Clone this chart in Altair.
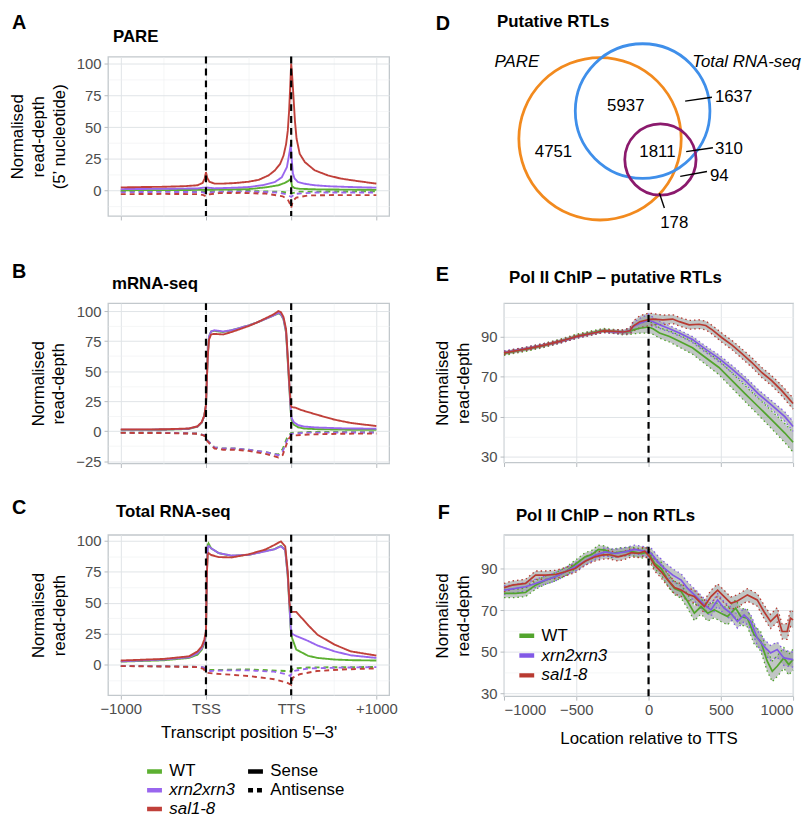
import altair as alt
import pandas as pd

FONT = "Liberation Sans"

# ---------------- categories / styles ----------------
series = ["WT", "xrn2xrn3", "sal1-8"]
line_colors = ["#5cb031", "#9966ee", "#c0403a"]
chip_colors = ["#52a42d", "#8159e6", "#b83a31"]
strands = ["Sense", "Antisense"]
strand_dash = [[1, 0], [5, 4]]

abc_tick_pos = [0, 1, 2, 3]
abc_tick_labels = ["−1000", "TSS", "TTS", "+1000"]
abc_marker_pos = [1, 2]
chip_marker_pos = [0]

panel_letters = ["A", "B", "C", "D", "E", "F"]
panel_names = ["PARE", "mRNA-seq", "Total RNA-seq", "Putative RTLs",
               "Pol II ChIP – putative RTLs", "Pol II ChIP – non RTLs"]

# ---------------- Panel A : PARE ----------------
A_red_s_x = [0, 0.25, 0.5, 0.75, 0.9, 0.96, 0.985, 1.0, 1.015, 1.04, 1.1, 1.2, 1.35, 1.5, 1.62, 1.735, 1.81, 1.87, 1.91, 1.94, 1.96, 1.975, 1.988, 2.0, 2.012, 2.025, 2.044, 2.063, 2.1, 2.16, 2.275, 2.43, 2.58, 2.78, 3.0]
A_red_s_y = [2.5, 2.8, 3.0, 3.5, 4.2, 6.0, 9.5, 14.5, 10.0, 7.0, 5.5, 5.5, 6.0, 7.0, 8.5, 12.0, 16.0, 21.0, 27.5, 36.5, 47.0, 62.0, 81.0, 100.0, 90.0, 76.0, 55.0, 41.0, 29.0, 22.5, 16.0, 12.0, 9.5, 7.5, 5.5]
A_pur_s_x = [0, 0.5, 0.9, 1.0, 1.1, 1.35, 1.5, 1.66, 1.81, 1.89, 1.95, 1.98, 1.995, 2.005, 2.02, 2.04, 2.08, 2.15, 2.275, 2.45, 2.66, 3.0]
A_pur_s_y = [1.2, 1.4, 1.7, 2.5, 1.8, 2.3, 2.8, 4.2, 6.8, 10.5, 18.5, 30.0, 36.5, 26.0, 13.5, 9.5, 6.8, 5.5, 4.2, 3.4, 2.9, 2.3]
A_grn_s_x = [0, 0.5, 1.0, 1.5, 1.6, 1.735, 1.85, 1.93, 1.97, 1.995, 2.01, 2.04, 2.1, 2.3, 2.6, 3.0]
A_grn_s_y = [0.3, 0.4, 0.6, 1.2, 1.8, 2.9, 4.2, 6.2, 7.8, 9.2, 3.5, 2.0, 1.4, 1.0, 0.8, 0.6]
A_red_a_x = [0, 0.5, 0.9, 0.97, 1.0, 1.04, 1.15, 1.4, 1.7, 1.9, 1.96, 1.99, 2.0, 2.02, 2.06, 2.2, 2.5, 3.0]
A_red_a_y = [-2.8, -2.6, -2.8, -3.5, -4.5, -3.0, -2.0, -1.8, -2.4, -4.5, -7.0, -11.0, -13.5, -8.0, -5.5, -3.8, -3.5, -3.6]
A_pur_a_x = [0, 0.5, 0.95, 1.0, 1.1, 1.5, 1.85, 1.95, 2.0, 2.05, 2.3, 3.0]
A_pur_a_y = [-1.2, -1.0, -1.2, -2.0, -1.0, -0.8, -1.5, -3.0, -5.0, -2.5, -1.5, -1.5]
A_grn_a_x = [0, 1.0, 1.5, 1.9, 2.0, 2.1, 3.0]
A_grn_a_y = [-0.4, -0.8, -0.3, -1.0, -2.2, -0.8, -0.6]

# ---------------- Panel B : mRNA-seq ----------------
B_red_s_x = [0, 0.5, 0.8, 0.9, 0.95, 0.98, 1.0, 1.01, 1.02, 1.035, 1.06, 1.1, 1.2, 1.3, 1.4, 1.5, 1.6, 1.7, 1.8, 1.85, 1.88, 1.91, 1.94, 1.96, 1.98, 1.995, 2.005, 2.05, 2.12, 2.31, 2.51, 2.7, 3.0]
B_red_s_y = [1.4, 1.5, 2.2, 4.0, 7.5, 13.0, 22.0, 42.0, 61.0, 76.0, 80.5, 81.0, 80.5, 82.5, 85.0, 87.5, 90.5, 94.0, 97.5, 100.0, 99.0, 95.0, 85.0, 62.0, 38.0, 22.0, 20.0, 19.5, 17.5, 13.5, 9.5, 6.8, 4.2]
B_gp_s_x = [0, 0.5, 0.8, 0.9, 0.95, 0.98, 1.0, 1.01, 1.02, 1.035, 1.06, 1.1, 1.2, 1.3, 1.4, 1.5, 1.6, 1.7, 1.8, 1.85, 1.88, 1.91, 1.94, 1.96, 1.98, 1.995, 2.005, 2.03, 2.08, 2.15, 2.3, 2.6, 3.0]
B_pur_s_y = [1.2, 1.3, 2.0, 3.8, 7.2, 12.5, 21.5, 42.0, 62.0, 78.5, 83.0, 84.0, 83.0, 84.0, 86.0, 88.0, 90.5, 93.5, 96.5, 98.5, 97.5, 93.5, 83.0, 60.0, 36.0, 18.0, 11.0, 7.5, 5.0, 3.8, 3.0, 2.3, 2.0]
B_grn_s_y = [1.0, 1.1, 1.8, 3.6, 7.0, 12.5, 21.5, 42.0, 62.0, 78.5, 83.0, 83.5, 82.5, 84.0, 86.0, 88.0, 90.5, 93.5, 96.5, 98.0, 97.0, 93.0, 82.0, 58.0, 34.0, 16.0, 9.0, 5.5, 3.2, 2.2, 1.6, 1.2, 1.0]
B_a_x = [0, 0.5, 0.9, 0.98, 1.0, 1.05, 1.1, 1.2, 1.35, 1.5, 1.7, 1.85, 1.9, 1.95, 1.98, 2.0, 2.2, 2.6, 3.0]
B_pur_a_y = [-1.3, -1.4, -2.0, -3.5, -6.5, -10.0, -13.5, -14.5, -14.5, -15.5, -17.5, -20.0, -17.0, -8.0, -4.5, -2.2, -1.3, -1.2, -1.2]
B_grn_a_y = [-1.3, -1.4, -2.0, -3.5, -6.5, -10.0, -13.5, -14.5, -14.5, -15.5, -17.5, -19.5, -15.0, -6.0, -3.0, -1.5, -0.8, -0.8, -1.0]
B_red_a_y = [-1.5, -1.6, -2.2, -3.8, -7.0, -11.0, -14.5, -15.5, -15.5, -16.5, -19.0, -22.0, -20.0, -10.0, -5.5, -3.8, -2.8, -2.2, -2.0]

# ---------------- Panel C : Total RNA-seq ----------------
C_s_x = [0, 0.5, 0.8, 0.9, 0.95, 0.98, 1.0, 1.01, 1.02, 1.03, 1.06, 1.15, 1.3, 1.5, 1.7, 1.8, 1.88, 1.93, 1.96, 1.98, 1.995, 2.005, 2.06, 2.2, 2.31, 2.51, 2.7, 3.0]
C_red_s_y = [3.2, 4.5, 6.6, 10.5, 14.5, 20.0, 27.0, 72.0, 88.5, 90.0, 88.5, 86.8, 86.5, 89.0, 93.0, 96.5, 99.5, 95.5, 75.0, 50.0, 43.0, 42.5, 42.5, 31.7, 24.0, 16.0, 10.6, 7.2]
C_pur_s_y = [2.5, 4.0, 5.8, 9.0, 13.0, 18.0, 25.0, 72.0, 94.7, 95.8, 93.9, 90.0, 88.0, 88.6, 91.5, 93.0, 95.5, 92.5, 72.0, 48.0, 30.0, 25.0, 23.0, 19.0, 15.3, 10.6, 7.4, 5.3]
C_grn_s_y = [2.3, 3.4, 5.3, 7.9, 11.9, 17.0, 24.0, 72.0, 96.6, 97.9, 93.9, 90.0, 87.8, 88.6, 91.8, 93.1, 95.8, 92.6, 71.0, 46.0, 28.0, 22.5, 12.0, 7.0, 5.3, 4.0, 3.5, 3.2]
C_red_a_x = [0, 0.5, 0.9, 0.97, 1.0, 1.1, 1.3, 1.5, 1.8, 1.95, 1.99, 2.0, 2.02, 2.1, 2.3, 2.6, 3.0]
C_red_a_y = [-1.3, -1.6, -2.1, -3.5, -6.6, -7.4, -8.3, -9.3, -11.9, -14.6, -16.0, -16.4, -10.6, -7.9, -5.3, -4.0, -3.2]
C_pur_a_x = [0, 0.5, 0.95, 1.0, 1.05, 1.2, 1.5, 1.8, 1.95, 1.99, 2.02, 2.2, 2.6, 3.0]
C_pur_a_y = [-1.3, -1.4, -2.0, -3.2, -5.3, -4.8, -4.8, -5.8, -8.0, -9.3, -5.3, -3.2, -2.5, -2.1]
C_grn_a_x = [0, 0.5, 0.95, 1.0, 1.05, 1.5, 1.95, 2.0, 2.02, 2.2, 2.6, 3.0]
C_grn_a_y = [-1.3, -1.4, -2.0, -3.2, -4.5, -4.0, -5.3, -5.5, -3.2, -2.4, -2.2, -2.0]

# ---------------- Panel D : Venn ----------------
venn_sets = ["PARE", "Total RNA-seq", "Putative RTLs"]
venn_colors = ["#f28a1e", "#3f8fea", "#8b1a6d"]
venn_cx = [97, 140, 158]
venn_cy = [83, 55, 104]
venn_r = [82, 68, 36]
venn_name_x = [13, 245]
venn_name_y = [5, 5]
venn_in_counts = ["5937", "4751", "1811", "178"]
venn_in_x = [123, 50, 155, 172]
venn_in_y = [50, 96, 96, 168]
venn_out_counts = ["1637", "310", "94"]
venn_out_x = [213, 213, 208]
venn_out_y = [41, 93, 121]
lead_x1 = [183, 184, 178, 157]
lead_y1 = [45, 96, 121, 138]
lead_x2 = [210, 211, 205, 162]
lead_y2 = [41, 92, 116, 153]

# ---------------- Panel E : Pol II ChIP putative RTLs ----------------
E_grn_x = [-1000, -836, -722, -608, -494, -380, -311, -243, -175, -129, -106, -60, 0, 31, 76, 145, 213, 304, 396, 487, 578, 669, 760, 852, 943, 1000]
E_grn_y = [81.8, 84.0, 85.8, 88.0, 90.5, 92.3, 93.3, 92.8, 92.3, 92.8, 93.6, 94.4, 95.0, 94.1, 92.0, 90.3, 87.9, 84.6, 79.6, 74.7, 68.1, 61.5, 55.0, 48.4, 41.8, 37.2]
E_grn_se = [1.0, 1.0, 1.0, 1.0, 1.0, 1.0, 1.0, 1.0, 1.2, 1.5, 2.0, 2.5, 3.0, 2.8, 2.6, 2.8, 3.0, 3.2, 3.4, 3.6, 3.8, 4.0, 4.2, 4.5, 4.8, 5.0]
E_pur_x = [-1000, -836, -722, -608, -494, -380, -311, -243, -175, -129, -106, -60, 0, 31, 76, 145, 213, 304, 396, 487, 578, 669, 760, 852, 943, 1000]
E_pur_y = [82.2, 84.3, 86.0, 87.8, 90.2, 92.0, 93.0, 92.6, 92.4, 93.2, 95.3, 96.9, 98.4, 97.7, 96.1, 94.1, 92.0, 88.7, 83.8, 79.3, 73.9, 68.1, 61.5, 55.8, 50.0, 45.1]
E_pur_se = [0.8, 0.8, 0.8, 0.8, 0.8, 0.8, 0.8, 0.8, 1.0, 1.5, 2.0, 2.5, 3.0, 2.2, 1.8, 1.6, 1.5, 1.5, 1.6, 1.7, 1.8, 1.9, 2.0, 2.2, 2.4, 2.5]
E_red_x = [-1000, -836, -722, -608, -494, -380, -311, -243, -175, -129, -106, -60, 0, 31, 99, 167, 213, 281, 350, 396, 441, 510, 578, 646, 715, 783, 852, 920, 1000]
E_red_y = [82.0, 84.2, 85.9, 87.9, 90.3, 92.0, 93.1, 92.8, 92.5, 93.1, 95.5, 97.7, 98.8, 99.0, 98.6, 99.0, 97.7, 96.1, 96.4, 95.8, 93.6, 89.5, 85.9, 81.6, 77.2, 72.2, 68.1, 63.2, 56.6]
E_red_se = [0.8, 0.8, 0.8, 0.8, 0.8, 0.8, 0.8, 0.8, 1.0, 1.5, 2.5, 3.0, 3.2, 2.8, 2.4, 2.2, 2.2, 2.2, 2.2, 2.2, 2.2, 2.3, 2.3, 2.4, 2.4, 2.5, 2.5, 2.6, 2.8]

# ---------------- Panel F : Pol II ChIP non RTLs ----------------
F_red_x = [-1000, -943, -851, -782, -713, -645, -576, -508, -439, -370, -324, -278, -210, -164, -118, -72, -26, 8, 42, 88, 134, 180, 226, 271, 317, 386, 432, 478, 523, 569, 615, 684, 752, 798, 844, 890, 924, 959, 982, 1000]
F_red_y = [80.8, 82.0, 82.8, 86.8, 86.8, 87.1, 88.4, 90.0, 93.5, 95.6, 96.4, 96.7, 95.6, 96.4, 97.6, 97.2, 98.3, 95.6, 91.6, 88.4, 84.4, 80.8, 79.6, 77.6, 76.5, 71.7, 76.5, 79.6, 76.5, 73.3, 74.4, 77.3, 74.9, 69.3, 64.5, 67.7, 59.7, 59.7, 66.1, 65.3]
F_red_se = [2.0, 2.0, 2.0, 2.0, 2.0, 2.0, 2.0, 2.0, 2.0, 2.0, 2.0, 2.0, 2.0, 2.0, 2.0, 2.0, 2.2, 2.5, 2.8, 3.0, 3.0, 3.0, 3.0, 3.0, 3.0, 3.0, 3.0, 3.0, 3.0, 3.0, 3.0, 3.0, 3.0, 3.2, 3.4, 3.5, 3.6, 3.8, 4.0, 4.0]
F_grn_x = [-1000, -920, -851, -782, -713, -645, -576, -508, -439, -393, -347, -301, -255, -187, -118, -49, -3, 42, 88, 134, 180, 226, 271, 317, 363, 409, 455, 501, 546, 603, 638, 684, 730, 776, 821, 856, 890, 936, 970, 1000]
F_grn_y = [78.0, 78.0, 78.5, 82.0, 84.4, 86.0, 88.4, 91.9, 95.6, 96.7, 99.2, 98.8, 97.2, 98.0, 98.3, 97.2, 98.0, 92.4, 90.0, 84.4, 80.4, 78.9, 74.1, 68.5, 71.7, 68.5, 70.1, 68.5, 66.9, 70.9, 66.9, 66.1, 58.2, 55.0, 45.4, 40.6, 43.0, 47.0, 43.8, 46.2]
F_grn_se = [2.0, 2.0, 2.0, 2.0, 2.0, 2.0, 2.0, 2.0, 2.0, 2.0, 2.0, 2.0, 2.0, 2.0, 2.0, 2.2, 2.4, 2.6, 3.0, 3.0, 3.0, 3.2, 3.4, 3.6, 3.6, 3.8, 3.8, 4.0, 4.0, 4.0, 4.0, 4.2, 4.4, 4.6, 4.8, 5.0, 5.0, 5.0, 5.0, 5.0]
F_pur_x = [-1000, -920, -851, -782, -713, -645, -576, -508, -439, -370, -301, -233, -164, -95, -26, 19, 65, 111, 168, 226, 271, 317, 386, 432, 478, 523, 569, 615, 661, 707, 752, 798, 844, 890, 936, 1000]
F_pur_y = [79.6, 80.4, 81.2, 82.8, 84.4, 86.0, 88.4, 90.8, 93.5, 96.4, 98.0, 97.2, 98.0, 99.2, 98.3, 97.2, 93.2, 90.0, 86.8, 84.4, 80.4, 77.3, 72.5, 70.1, 74.9, 70.9, 68.5, 64.5, 67.7, 64.5, 56.6, 52.6, 49.4, 51.0, 47.0, 46.2]
F_pur_se = [2.0, 2.0, 2.0, 2.0, 2.0, 2.0, 2.0, 2.0, 2.0, 2.0, 2.0, 2.0, 2.0, 2.0, 2.2, 2.5, 2.8, 3.0, 3.0, 3.0, 3.0, 3.0, 3.0, 3.0, 3.0, 3.0, 3.0, 3.2, 3.2, 3.4, 3.5, 3.5, 3.6, 3.6, 3.6, 3.6]

# ---------------- helpers ----------------
GRID_MAJ = "#e0e4e7"
GRID_MIN = "#eef0f2"


def grid(test):
    return dict(
        gridColor={"condition": {"test": test, "value": GRID_MAJ}, "value": GRID_MIN},
        gridWidth={"condition": {"test": test, "value": 1.0}, "value": 0.6},
        tickOpacity={"condition": {"test": test, "value": 1}, "value": 0},
    )


def line_table(parts):
    rows = []
    for xs, ys, s, st in parts:
        for x, y in zip(xs, ys):
            rows.append({"x": x, "y": y, "series": s, "strand": st})
    return pd.DataFrame(rows)


def band_table(parts):
    rows = []
    for xs, ys, ses, s in parts:
        for x, y, e in zip(xs, ys, ses):
            rows.append({"x": x, "y": y, "lo": y - e, "hi": y + e, "series": s})
    return pd.DataFrame(rows)


label_expr_parts = " : ".join(
    f"datum.value === {p} ? '{t}'" for p, t in zip(abc_tick_pos, abc_tick_labels)
)
abc_label_expr = label_expr_parts + " : ''"

italic_expr = alt.ExprRef("datum.label == 'WT' ? 'normal' : 'italic'")

LEG_SYM = dict(symbolType="stroke", symbolStrokeWidth=4.5, symbolSize=225,
               labelFontSize=17, labelColor="black", labelOffset=5, title=None)


def heading_layers(idx, lpos, npos):
    letter = alt.Chart(pd.DataFrame({"t": [panel_letters[idx]]})).mark_text(
        font=FONT, fontSize=20, fontWeight="bold", align="left", baseline="middle", color="black"
    ).encode(text="t:N", x=alt.value(lpos[0]), y=alt.value(lpos[1]))
    name = alt.Chart(pd.DataFrame({"t": [panel_names[idx]]})).mark_text(
        font=FONT, fontSize=17, fontWeight="bold", align="left", baseline="middle", color="black"
    ).encode(text="t:N", x=alt.value(npos[0]), y=alt.value(npos[1]))
    return [letter, name]


def abc_panel(df, ydom, yvals, height, ytitle, idx, lpos, npos, xlabels=False, legends=False):
    xkw = dict(values=[0, 0.5, 1, 1.5, 2, 2.5, 3], **grid("datum.value % 1 === 0"))
    if xlabels:
        xkw.update(labelExpr=abc_label_expr, title="Transcript position 5'–3'",
                   titlePadding=8, labelPadding=3)
    else:
        xkw.update(labels=False, title=None)
    yaxis = alt.Axis(values=yvals, title=ytitle,
                     labelExpr="datum.value % 25 === 0 ? datum.label : ''",
                     **grid("datum.value % 25 === 0"))
    if legends:
        col_leg = alt.Legend(orient="none", legendX=37, legendY=229, rowPadding=0,
                             symbolDash=[1, 0], labelFontStyle=italic_expr, **LEG_SYM)
        dash_leg = alt.Legend(orient="none", legendX=139, legendY=229, rowPadding=0,
                              symbolStrokeColor="black", **LEG_SYM)
        color = alt.Color("series:N", scale=alt.Scale(domain=series, range=line_colors), legend=col_leg)
        dash = alt.StrokeDash("strand:N", scale=alt.Scale(domain=strands, range=strand_dash), legend=dash_leg)
    else:
        color = alt.Color("series:N", scale=alt.Scale(domain=series, range=line_colors), legend=None)
        dash = alt.StrokeDash("strand:N", scale=alt.Scale(domain=strands, range=strand_dash), legend=None)
    lines = alt.Chart(df).mark_line(strokeWidth=1.9).encode(
        x=alt.X("x:Q", scale=alt.Scale(domain=[-0.15, 3.15], nice=False, zero=False), axis=alt.Axis(**xkw)),
        y=alt.Y("y:Q", scale=alt.Scale(domain=ydom, nice=False, zero=False), axis=yaxis),
        color=color,
        strokeDash=dash,
    )
    markers = alt.Chart(pd.DataFrame({"x": abc_marker_pos})).mark_rule(
        color="black", strokeWidth=2.2, strokeDash=[7, 5]
    ).encode(x="x:Q")
    return alt.layer(lines, markers, *heading_layers(idx, lpos, npos)).properties(
        width=284, height=height,
    )


def chip_panel(df, ydom, height, idx, lpos, npos, xlabels=False, legend=False):
    xkw = dict(values=[-1000, -750, -500, -250, 0, 250, 500, 750, 1000], format="d",
               **grid("datum.value % 500 === 0"))
    if xlabels:
        xkw.update(title="Location relative to TTS", titlePadding=13, labelPadding=3)
    else:
        xkw.update(labels=False, title=None)
    yaxis = alt.Axis(values=[30, 40, 50, 60, 70, 80, 90, 100], title=["Normalised", "read-depth"],
                     labelExpr="(datum.value - 30) % 20 === 0 ? datum.label : ''",
                     **grid("(datum.value - 30) % 20 === 0"))
    xenc = alt.X("x:Q", scale=alt.Scale(domain=[-1000, 1000], nice=False, zero=False), axis=alt.Axis(**xkw))
    yscale = alt.Scale(domain=ydom, nice=False, zero=False)
    if legend:
        leg = alt.Legend(orient="none", legendX=13, legendY=92, rowPadding=1,
                         symbolDash=[1, 0], labelFontStyle=italic_expr, **LEG_SYM)
    else:
        leg = None
    color = alt.Color("series:N", scale=alt.Scale(domain=series, range=chip_colors), legend=leg)
    base = alt.Chart(df)
    band = base.mark_area(color="#97a09e", opacity=0.6).encode(
        x=xenc, y=alt.Y("lo:Q", scale=yscale, axis=yaxis), y2="hi:Q", detail="series:N"
    )
    lo = base.mark_line(strokeWidth=1.3, strokeDash=[1.5, 3]).encode(
        x=xenc, y=alt.Y("lo:Q", scale=yscale, axis=yaxis), color=color)
    hi = base.mark_line(strokeWidth=1.3, strokeDash=[1.5, 3]).encode(
        x=xenc, y=alt.Y("hi:Q", scale=yscale, axis=yaxis), color=color)
    main = base.mark_line(strokeWidth=1.7).encode(
        x=xenc, y=alt.Y("y:Q", scale=yscale, axis=yaxis), color=color)
    marker = alt.Chart(pd.DataFrame({"x": chip_marker_pos})).mark_rule(
        color="black", strokeWidth=2.2, strokeDash=[7, 5]
    ).encode(x="x:Q")
    return alt.layer(band, lo, hi, main, marker, *heading_layers(idx, lpos, npos)).properties(
        width=292, height=height,
    )


# ---------------- build panels ----------------
dfA = line_table([
    (A_grn_a_x, A_grn_a_y, "WT", "Antisense"), (A_pur_a_x, A_pur_a_y, "xrn2xrn3", "Antisense"),
    (A_red_a_x, A_red_a_y, "sal1-8", "Antisense"),
    (A_grn_s_x, A_grn_s_y, "WT", "Sense"), (A_pur_s_x, A_pur_s_y, "xrn2xrn3", "Sense"),
    (A_red_s_x, A_red_s_y, "sal1-8", "Sense"),
])
dfB = line_table([
    (B_a_x, B_grn_a_y, "WT", "Antisense"), (B_a_x, B_pur_a_y, "xrn2xrn3", "Antisense"),
    (B_a_x, B_red_a_y, "sal1-8", "Antisense"),
    (B_gp_s_x, B_grn_s_y, "WT", "Sense"), (B_gp_s_x, B_pur_s_y, "xrn2xrn3", "Sense"),
    (B_red_s_x, B_red_s_y, "sal1-8", "Sense"),
])
dfC = line_table([
    (C_grn_a_x, C_grn_a_y, "WT", "Antisense"), (C_pur_a_x, C_pur_a_y, "xrn2xrn3", "Antisense"),
    (C_red_a_x, C_red_a_y, "sal1-8", "Antisense"),
    (C_s_x, C_grn_s_y, "WT", "Sense"), (C_s_x, C_pur_s_y, "xrn2xrn3", "Sense"),
    (C_s_x, C_red_s_y, "sal1-8", "Sense"),
])
dfE = band_table([
    (E_grn_x, E_grn_y, E_grn_se, "WT"), (E_pur_x, E_pur_y, E_pur_se, "xrn2xrn3"),
    (E_red_x, E_red_y, E_red_se, "sal1-8"),
])
dfF = band_table([
    (F_grn_x, F_grn_y, F_grn_se, "WT"), (F_pur_x, F_pur_y, F_pur_se, "xrn2xrn3"),
    (F_red_x, F_red_y, F_red_se, "sal1-8"),
])

panelA = abc_panel(dfA, [-20, 105.5], [-12.5, 0, 12.5, 25, 37.5, 50, 62.5, 75, 87.5, 100], 161,
                   ["Normalised", "read-depth", "(5’ nucleotide)"], 0, (-97, -34), (5, -20))
panelB = abc_panel(dfB, [-27, 106.6], [-25, -12.5, 0, 12.5, 25, 37.5, 50, 62.5, 75, 87.5, 100], 162,
                   ["Normalised", "read-depth"], 1, (-97, -31), (4, -19))
panelC = abc_panel(dfC, [-24.8, 104.8], [-12.5, 0, 12.5, 25, 37.5, 50, 62.5, 75, 87.5, 100], 162,
                   ["Normalised", "read-depth"], 2, (-97, -27), (8, -23),
                   xlabels=True, legends=True)
panelE = chip_panel(dfE, [27, 107], 161, 4, (-69, -28), (5, -25))
panelF = chip_panel(dfF, [28.6, 106.2], 163, 5, (-67, -22), (12, -19), xlabels=True, legend=True)

# Venn panel
vx = alt.Scale(domain=[0, 294], nice=False, zero=False)
vy = alt.Scale(domain=[0, 179], nice=False, zero=False, reverse=True)
circ_df = pd.DataFrame({"set": venn_sets, "cx": venn_cx, "cy": venn_cy,
                        "s": [(2 * r) ** 2 for r in venn_r]})
circles = alt.Chart(circ_df).mark_point(filled=False, strokeWidth=2.8, opacity=1, shape="circle").encode(
    x=alt.X("cx:Q", scale=vx, axis=None),
    y=alt.Y("cy:Q", scale=vy, axis=None),
    size=alt.Size("s:Q", scale=None),
    color=alt.Color("set:N", scale=alt.Scale(domain=venn_sets, range=venn_colors), legend=None),
)
names = alt.Chart(pd.DataFrame({"t": venn_sets[:2], "x": venn_name_x, "y": venn_name_y})).mark_text(
    font=FONT, fontSize=17, fontStyle="italic", color="black"
).encode(x=alt.X("x:Q", scale=vx, axis=None), y=alt.Y("y:Q", scale=vy, axis=None), text="t:N")
inner = alt.Chart(pd.DataFrame({"t": venn_in_counts, "x": venn_in_x, "y": venn_in_y})).mark_text(
    font=FONT, fontSize=17, color="black"
).encode(x=alt.X("x:Q", scale=vx, axis=None), y=alt.Y("y:Q", scale=vy, axis=None), text="t:N")
outer = alt.Chart(pd.DataFrame({"t": venn_out_counts, "x": venn_out_x, "y": venn_out_y})).mark_text(
    font=FONT, fontSize=17, color="black", align="left"
).encode(x=alt.X("x:Q", scale=vx, axis=None), y=alt.Y("y:Q", scale=vy, axis=None), text="t:N")
leaders = alt.Chart(pd.DataFrame({"x1": lead_x1, "y1": lead_y1, "x2": lead_x2, "y2": lead_y2})).mark_rule(
    color="black", strokeWidth=1.4
).encode(x=alt.X("x1:Q", scale=vx, axis=None), y=alt.Y("y1:Q", scale=vy, axis=None), x2="x2:Q", y2="y2:Q")
panelD = alt.layer(circles, leaders, names, inner, outer, *heading_layers(3, (-69, -33), (-7, -35))).properties(
    width=294, height=179,
    view=alt.ViewBackground(stroke="transparent"),
)

chart = alt.concat(
    panelA, panelD, panelB, panelE, panelC, panelF,
    columns=2, spacing={"row": 27, "column": 35}, align="each",
).resolve_scale(color="independent", strokeDash="independent").properties(
    padding={"left": 0, "top": 0, "right": 0, "bottom": 0}
).configure(font=FONT).configure_view(
    stroke="#c2c8cc", strokeWidth=1.3
).configure_axis(
    domain=False, tickColor="#b6bbbf", tickSize=4, labelFont=FONT, labelFontSize=15,
    labelColor="#4d4d4d", labelPadding=3, titleFont=FONT, titleFontSize=17,
    titleFontWeight="normal", titleColor="black", titleLineHeight=21, titlePadding=8,
).configure_legend(
    labelFont=FONT
)

chart.save("out.html", embed_options={"renderer": "svg", "actions": False})
